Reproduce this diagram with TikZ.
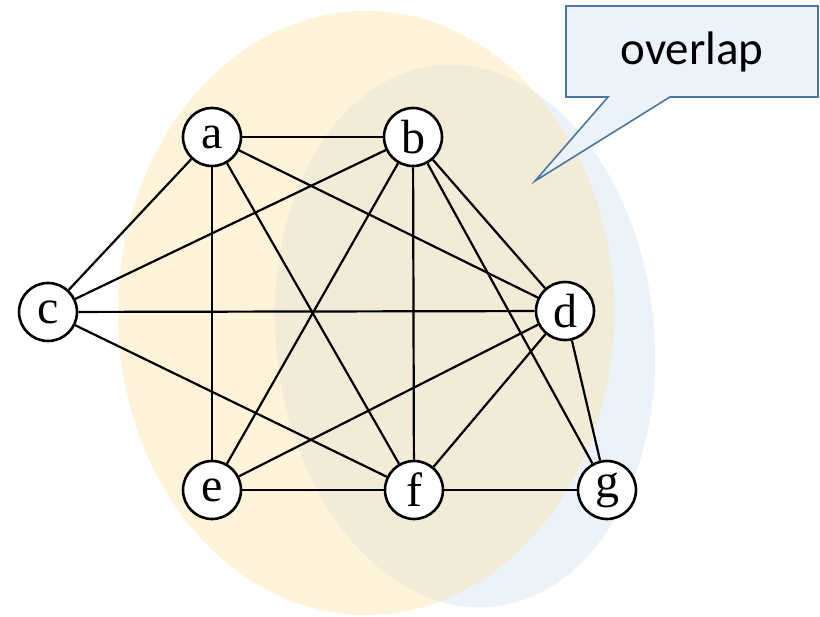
\documentclass[tikz,border=0pt]{standalone}
\usepackage{fontspec}
\setmainfont{Liberation Serif}
\newfontfamily\calloutfont{Carlito}
\definecolor{ylw}{HTML}{FFF4D9}
\definecolor{blu}{HTML}{EBF2FA}
\definecolor{ovl}{HTML}{F1EBD8}
\definecolor{cborder}{HTML}{4A76A0}
\tikzset{
  vtx/.style={circle, draw=black, line width=2.6pt, fill=white, minimum size=58pt, inner sep=0pt, font=\fontsize{48}{48}\selectfont},
  edge/.style={line width=2.2pt, black},
}
\begin{document}
\begin{tikzpicture}[x=1pt,y=-1pt]
\useasboundingbox (0,0) rectangle (820,617);
% ellipses
\fill[ylw] (366,313) ellipse [x radius=248, y radius=302];
\fill[blu, rotate around={6:(465,336)}] (465,336) ellipse [x radius=189, y radius=272];
\begin{scope}
  \clip (366,313) ellipse [x radius=248, y radius=302];
  \fill[ovl, rotate around={6:(465,336)}] (465,336) ellipse [x radius=189, y radius=272];
\end{scope}
% callout
\coordinate (tip) at (535,181);
\draw[fill=blu, draw=cborder, line width=1.6pt, line join=miter]
  (566,6) -- (818,6) -- (818,97) -- (670,97) -- (tip) -- (608,97) -- (566,97) -- cycle;
\node[font=\calloutfont\fontsize{47}{47}\selectfont] (ct) at (692,51.5) {overlap};
% nodes
\node[vtx] (a) at (212,137) {a};
\node[vtx] (b) at (413,137) {b};
\node[vtx] (c) at (48,312) {c};
\node[vtx] (d) at (565,311) {d};
\node[vtx] (e) at (212,490) {e};
\node[vtx] (f) at (414,490) {f};
\node[vtx] (g) at (607,490) {g};
% edges
\foreach \u/\v in {a/b,a/c,a/e,a/f,a/d,b/c,b/e,b/f,b/d,b/g,c/d,c/f,d/e,d/f,d/g,e/f,f/g}
  \draw[edge] (\u) -- (\v);
\end{tikzpicture}
\end{document}
